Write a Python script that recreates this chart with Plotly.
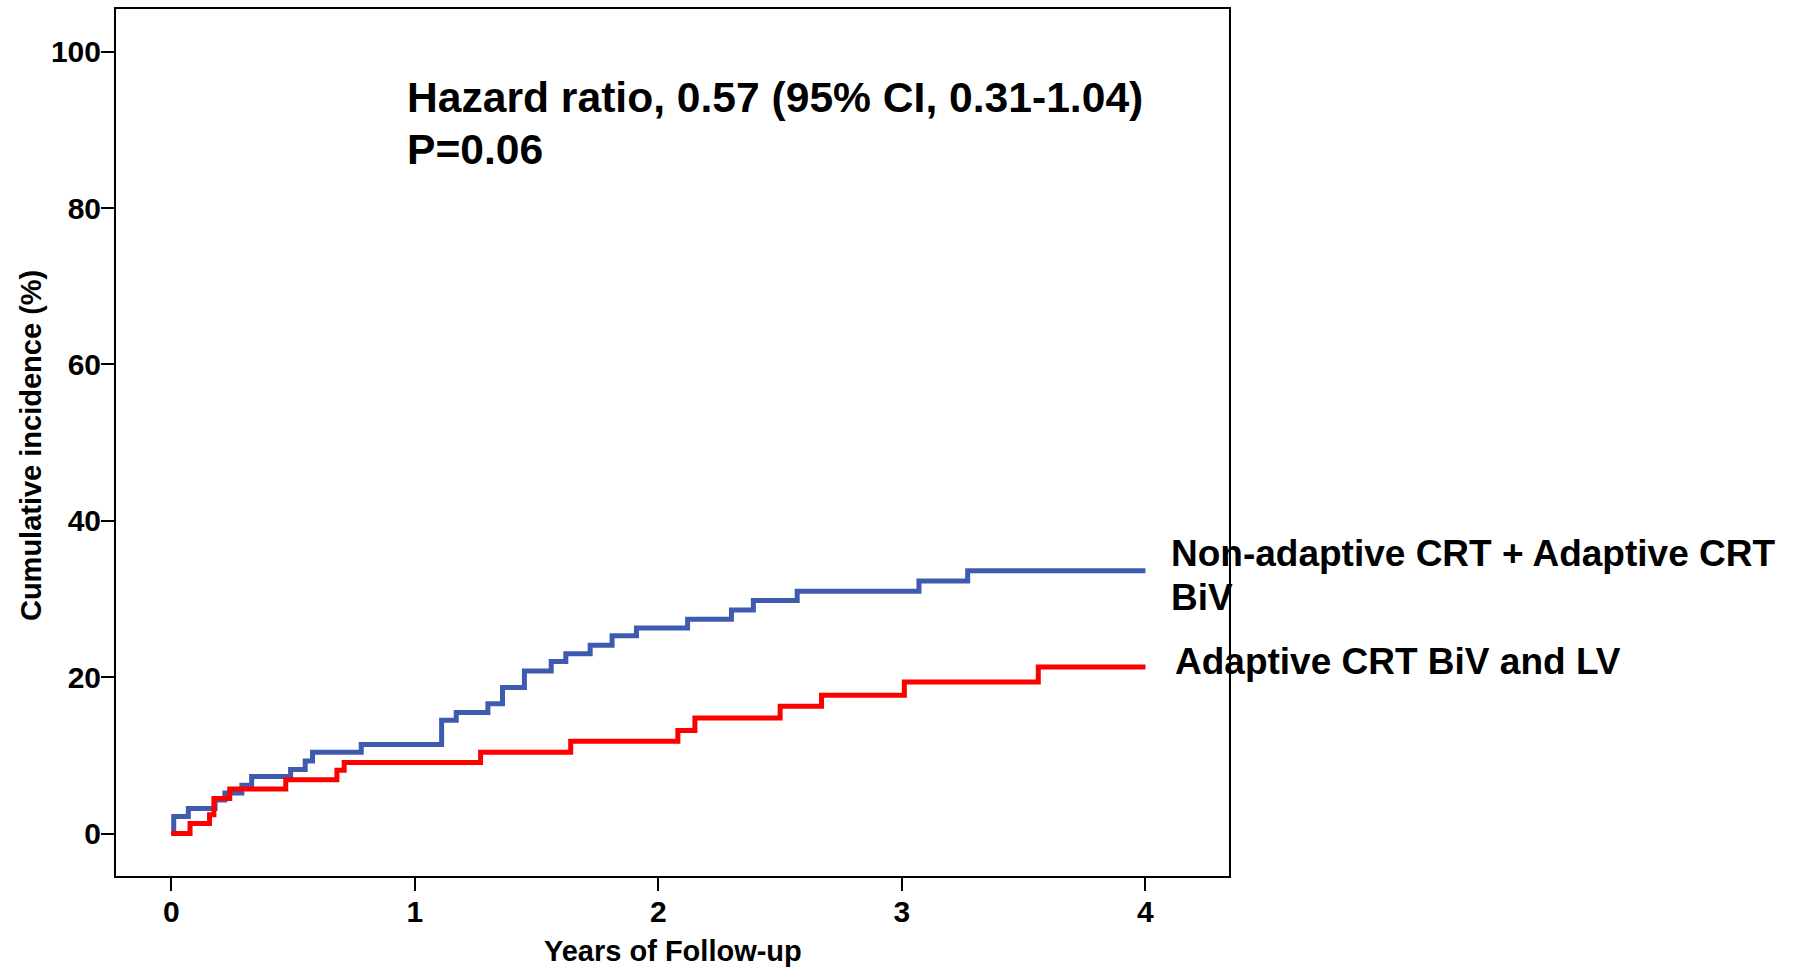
import plotly.graph_objects as go

# ---- data ----
years_nonadaptive = [0, 0.01, 0.07, 0.18, 0.22, 0.29, 0.33, 0.49, 0.55, 0.58, 0.78,
                     1.11, 1.17, 1.30, 1.36, 1.45, 1.56, 1.62, 1.72, 1.81, 1.91,
                     2.12, 2.30, 2.39, 2.57, 3.07, 3.27, 4.0]
inc_nonadaptive = [0, 2.2, 3.2, 4.3, 5.2, 6.2, 7.3, 8.2, 9.3, 10.4, 11.4,
                   14.5, 15.5, 16.6, 18.7, 20.8, 22.0, 23.0, 24.1, 25.3, 26.3,
                   27.4, 28.6, 29.8, 31.0, 32.3, 33.6, 33.6]

years_adaptive = [0, 0.077, 0.157, 0.175, 0.24, 0.47, 0.68, 0.71, 1.27, 1.64,
                  2.08, 2.15, 2.50, 2.67, 3.01, 3.56, 4.0]
inc_adaptive = [0, 1.3, 2.4, 4.5, 5.7, 6.9, 8.1, 9.1, 10.4, 11.8,
                13.2, 14.8, 16.3, 17.7, 19.4, 21.3, 21.3]

x_ticks = [0, 1, 2, 3, 4]
y_ticks = [0, 20, 40, 60, 80, 100]

label_nonadaptive_1 = "Non-adaptive CRT + Adaptive CRT"
label_nonadaptive_2 = "BiV"
label_adaptive = "Adaptive CRT BiV and LV"
hr_text = "Hazard ratio, 0.57 (95% CI, 0.31-1.04)"
p_text = "P=0.06"

FONT = "Arial, Liberation Sans, Helvetica, sans-serif"

fig = go.Figure()
fig.add_trace(go.Scatter(
    x=years_nonadaptive, y=inc_nonadaptive, mode="lines",
    line=dict(shape="hv", color="#3F5BAF", width=5),
    name=label_nonadaptive_1 + " " + label_nonadaptive_2, showlegend=False,
))
fig.add_trace(go.Scatter(
    x=years_adaptive, y=inc_adaptive, mode="lines",
    line=dict(shape="hv", color="#FF0000", width=5),
    name=label_adaptive, showlegend=False,
))

axis_common = dict(
    showgrid=False, zeroline=False, showline=True, linecolor="black", linewidth=2,
    mirror=True, ticks="outside", ticklen=13, tickwidth=2, tickcolor="black",
    tickfont=dict(family=FONT, size=30, color="black", weight="bold"),
)

fig.update_layout(
    width=1808, height=969,
    margin=dict(l=116, r=579, t=7, b=93),
    paper_bgcolor="white", plot_bgcolor="white",
    xaxis=dict(range=[-0.227, 4.343], tickvals=x_ticks, ticklabelstandoff=-5, **axis_common),
    yaxis=dict(range=[-5.42, 105.45], tickvals=y_ticks, ticklabelstandoff=-6, **axis_common),
)

ann_font_big = dict(family=FONT, size=42.6, color="black", weight="bold")
ann_font_lab = dict(family=FONT, size=37, color="black", weight="bold")
ann_font_axis = dict(family=FONT, size=29, color="black", weight="bold")

annotations = [
    dict(x=0.958, y=94.2, xref="x", yref="y", text=hr_text, showarrow=False,
         xanchor="left", yanchor="middle", font=ann_font_big),
    dict(x=0.958, y=87.5, xref="x", yref="y", text=p_text, showarrow=False,
         xanchor="left", yanchor="middle", font=ann_font_big),
    dict(x=4.095, y=35.8, xref="x", yref="y", text=label_nonadaptive_1, showarrow=False,
         xanchor="left", yanchor="middle", font=ann_font_lab),
    dict(x=4.095, y=30.2, xref="x", yref="y", text=label_nonadaptive_2, showarrow=False,
         xanchor="left", yanchor="middle", font=ann_font_lab),
    dict(x=4.114, y=22.0, xref="x", yref="y", text=label_adaptive, showarrow=False,
         xanchor="left", yanchor="middle", font=ann_font_lab),
    dict(x=0.5, y=-0.0863, xref="paper", yref="paper", text="Years of Follow-up",
         showarrow=False, xanchor="center", yanchor="middle", font=ann_font_axis),
    dict(x=-0.0764, y=0.497, xref="paper", yref="paper", text="Cumulative incidence (%)",
         showarrow=False, xanchor="center", yanchor="middle", textangle=-90,
         font=ann_font_axis),
]
fig.update_layout(annotations=annotations)

fig.write_html("out.html")
